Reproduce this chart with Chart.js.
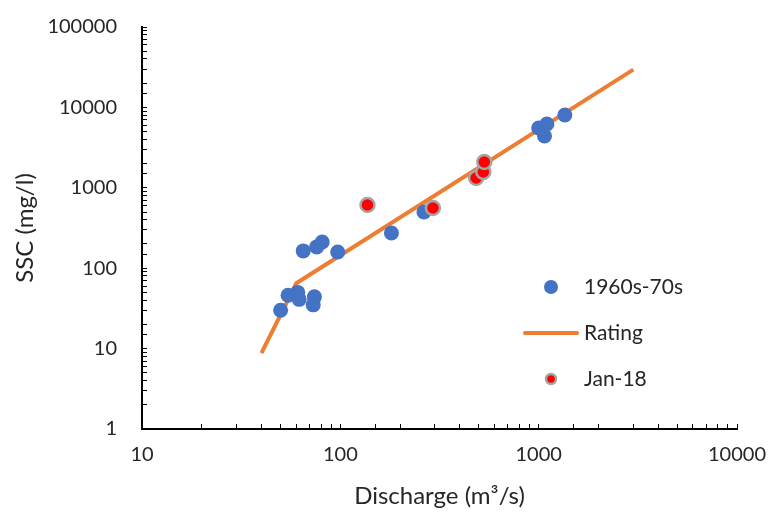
<!DOCTYPE html>
<html>
<head>
<meta charset="utf-8">
<script src="https://cdn.jsdelivr.net/npm/chart.js@4.4.1/dist/chart.umd.min.js"></script>
<style>
  html, body { margin: 0; padding: 0; background: #fff; }
  #wrap { width: 770px; height: 514px; }
</style>
</head>
<body>
<div id="wrap"><canvas id="chart"></canvas></div>
<script>
// données
const oldQ = [50, 54.5, 61, 62, 74, 73, 65, 76, 81, 97, 181, 264, 1000, 1070, 1100, 1355];
const oldSSC = [30, 46, 50, 41, 44, 35, 164, 184, 212, 159, 274, 500, 5550, 4400, 6210, 8040];

const ratingQ = [40, 60, 3000];
const ratingSSC = [8.8, 65, 29500];

const janQ = [137, 293, 484, 526, 532];
const janSSC = [611, 561, 1325, 1574, 2094];

const xTickLabels = [10, 100, 1000, 10000];
const yTickLabels = [1, 10, 100, 1000, 10000, 100000];

const FONT = 'Lato, "Open Sans", sans-serif';
const TEXT = '#262626';

const toPoints = (xs, ys) => xs.map((x, i) => ({ x: x, y: ys[i] }));

// légende dessinée à la main, à l'intérieur de la zone du graphique
const legendInside = {
  id: 'legendInside',
  afterDraw(chart) {
    const ctx = chart.ctx;
    const ds = chart.data.datasets;
    const rows = [
      { ds: ds[0], y: 287, kind: 'dot' },
      { ds: ds[1], y: 333, kind: 'line' },
      { ds: ds[2], y: 379, kind: 'dot' },
    ];
    ctx.save();
    for (const r of rows) {
      if (r.kind === 'line') {
        ctx.strokeStyle = r.ds.borderColor;
        ctx.lineWidth = r.ds.borderWidth;
        ctx.lineCap = 'round';
        ctx.beginPath();
        ctx.moveTo(525, r.y);
        ctx.lineTo(577, r.y);
        ctx.stroke();
      } else {
        ctx.fillStyle = r.ds.pointBackgroundColor;
        ctx.strokeStyle = r.ds.pointBorderColor;
        ctx.lineWidth = r.ds.pointBorderWidth;
        ctx.beginPath();
        ctx.arc(551, r.y, r.ds === ds[0] ? 7 : 5, 0, Math.PI * 2);
        ctx.fill();
        if (r.ds.pointBorderWidth) ctx.stroke();
      }
      ctx.fillStyle = TEXT;
      ctx.font = '21px ' + FONT;
      ctx.textBaseline = 'middle';
      ctx.textAlign = 'left';
      ctx.fillText(r.ds.label, 584, r.y);
    }
    ctx.restore();
  },
};

new Chart(document.getElementById('chart'), {
  type: 'scatter',
  data: {
    datasets: [
      {
        label: '1960s-70s',
        data: toPoints(oldQ, oldSSC),
        pointRadius: 7.5,
        pointHoverRadius: 7.5,
        pointBackgroundColor: '#4472C4',
        pointBorderColor: '#4472C4',
        pointBorderWidth: 0,
        order: 1,
      },
      {
        label: 'Rating',
        data: toPoints(ratingQ, ratingSSC),
        showLine: true,
        borderColor: '#ED7D31',
        borderWidth: 4,
        pointRadius: 0,
        order: 2,
      },
      {
        label: 'Jan-18',
        data: toPoints(janQ, janSSC),
        pointRadius: 7,
        pointHoverRadius: 7,
        pointBackgroundColor: '#FF0000',
        pointBorderColor: '#A5A5A5',
        pointBorderWidth: 2.5,
        order: 0,
      },
    ],
  },
  options: {
    responsive: true,
    maintainAspectRatio: false,
    animation: false,
    layout: { padding: { top: 27, right: 33, left: 0, bottom: 0 } },
    plugins: {
      legend: { display: false },
      tooltip: { enabled: false },
    },
    scales: {
      x: {
        type: 'logarithmic',
        min: 10,
        max: 10000,
        afterFit: (s) => { s.height = 85; s.paddingLeft = 0; s.paddingRight = 0; },
        grid: { drawOnChartArea: false, drawTicks: true, tickLength: -5, color: '#000' },
        border: { color: '#000', width: 2 },
        ticks: {
          autoSkip: false,
          maxRotation: 0,
          padding: 19,
          color: TEXT,
          font: { family: FONT, size: 20 },
          callback: (v) => (xTickLabels.includes(v) ? String(v) : ''),
        },
        title: {
          display: true,
          text: 'Discharge (m³/s)',
          color: TEXT,
          font: { family: FONT, size: 24 },
          padding: { top: 0, bottom: 3 },
        },
      },
      y: {
        type: 'logarithmic',
        min: 1,
        max: 100000,
        afterFit: (s) => { s.width = 142; s.paddingTop = 0; s.paddingBottom = 0; },
        grid: { drawOnChartArea: false, drawTicks: true, tickLength: -5, color: '#000' },
        border: { color: '#000', width: 2 },
        ticks: {
          autoSkip: false,
          padding: 30,
          color: TEXT,
          font: { family: FONT, size: 20 },
          callback: (v) => (yTickLabels.includes(v) ? String(v) : ''),
        },
        title: {
          display: true,
          text: 'SSC (mg/l)',
          color: TEXT,
          font: { family: FONT, size: 24 },
          padding: { top: 11, bottom: 0 },
        },
      },
    },
  },
  plugins: [legendInside],
});
</script>
</body>
</html>
